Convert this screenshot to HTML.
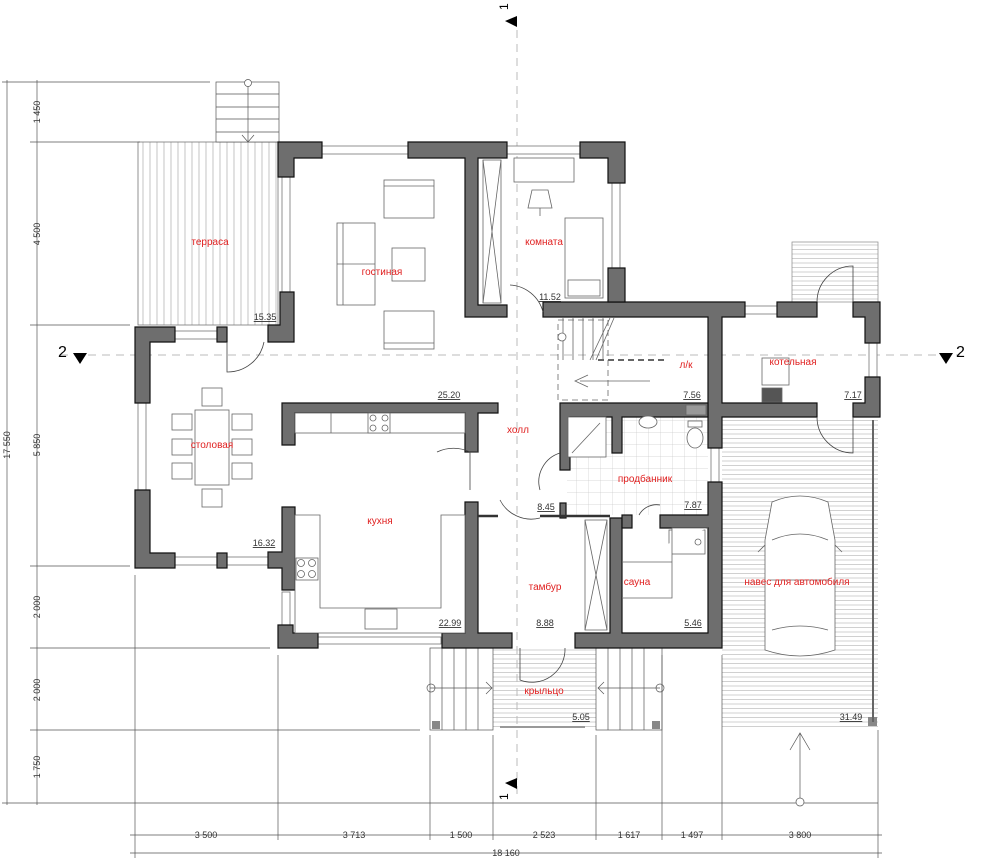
<!DOCTYPE html>
<html><head><meta charset="utf-8"><style>
html,body{margin:0;padding:0;background:#fff;}
svg{display:block;}
.w{fill:#6e6e6e;stroke:#111;stroke-width:1.2;}
.t{stroke:#555;stroke-width:0.7;fill:none;}
.f{stroke:#666;stroke-width:0.8;fill:#fff;}
.d{stroke:#444;stroke-width:0.8;fill:none;}
.lbl{font-family:"Liberation Sans",sans-serif;font-size:10px;fill:#e02020;text-anchor:middle;}
.num{font-family:"Liberation Sans",sans-serif;font-size:9px;fill:#333;text-anchor:middle;text-decoration:underline;}
.dim{font-family:"Liberation Sans",sans-serif;font-size:9px;fill:#333;text-anchor:middle;}
</style></head><body>
<svg width="1000" height="861" viewBox="0 0 1000 861" xmlns="http://www.w3.org/2000/svg">
<defs>
<pattern id="vh" width="7" height="10" patternUnits="userSpaceOnUse"><line x1="3" y1="0" x2="3" y2="10" stroke="#aaa" stroke-width="0.7"/></pattern>
<pattern id="hh" width="10" height="4.5" patternUnits="userSpaceOnUse"><line x1="0" y1="2" x2="10" y2="2" stroke="#bbb" stroke-width="0.7"/></pattern>
<pattern id="tile" width="12" height="12" patternUnits="userSpaceOnUse"><path d="M0 0H12M0 0V12" stroke="#ccc" stroke-width="0.7" fill="none"/></pattern>
</defs>

<rect x="138" y="142" width="140" height="183" fill="url(#vh)" stroke="#777" stroke-width="0.8"/>
<rect x="722" y="417" width="156" height="313" fill="url(#hh)"/>
<rect x="430" y="648" width="232" height="82" fill="url(#hh)"/>
<rect x="792" y="242" width="86" height="60" fill="url(#hh)" stroke="#888" stroke-width="0.7"/>
<rect x="567" y="415" width="141" height="100" fill="url(#tile)"/>
<g class="t">
<rect x="430" y="648" width="63" height="82" fill="#fff"/>
<line x1="442" y1="648" x2="442" y2="730"/><line x1="454" y1="648" x2="454" y2="730"/><line x1="466" y1="648" x2="466" y2="730"/><line x1="478" y1="648" x2="478" y2="730"/>
<line x1="430" y1="688" x2="492" y2="688"/><circle cx="431" cy="688" r="4"/><path d="M486 682L492 688L486 694"/>
<rect x="596" y="648" width="66" height="82" fill="#fff"/>
<line x1="608" y1="648" x2="608" y2="730"/><line x1="620" y1="648" x2="620" y2="730"/><line x1="632" y1="648" x2="632" y2="730"/><line x1="644" y1="648" x2="644" y2="730"/>
<line x1="598" y1="688" x2="660" y2="688"/><circle cx="660" cy="688" r="4"/><path d="M604 682L598 688L604 694"/>
</g>
<rect x="432" y="721" width="8" height="8" fill="#888"/><rect x="652" y="721" width="8" height="8" fill="#888"/><rect x="868" y="717" width="9" height="9" fill="#888"/>
<line x1="500" y1="727" x2="585" y2="727" stroke="#999" stroke-width="2"/>
<line x1="873" y1="420" x2="873" y2="722" stroke="#666" stroke-width="2"/>

<g stroke="#555" stroke-width="0.7" fill="none">
<line x1="7" y1="80" x2="7" y2="805"/><line x1="37" y1="80" x2="37" y2="805"/>
<line x1="2" y1="82" x2="210" y2="82"/><line x1="30" y1="142" x2="140" y2="142"/><line x1="30" y1="325" x2="130" y2="325"/>
<line x1="30" y1="566" x2="130" y2="566"/><line x1="30" y1="648" x2="270" y2="648"/><line x1="30" y1="730" x2="420" y2="730"/>
<line x1="2" y1="803" x2="878" y2="803"/>
<line x1="130" y1="835" x2="882" y2="835"/><line x1="130" y1="853" x2="882" y2="853"/>
<line x1="135" y1="575" x2="135" y2="858"/><line x1="278" y1="655" x2="278" y2="840"/><line x1="430" y1="735" x2="430" y2="840"/>
<line x1="493" y1="735" x2="493" y2="840"/><line x1="596" y1="735" x2="596" y2="840"/><line x1="662" y1="655" x2="662" y2="840"/>
<line x1="722" y1="655" x2="722" y2="840"/><line x1="878" y1="730" x2="878" y2="858"/>
<path d="M800 733V800M790 750L800 733L810 750"/><circle cx="800" cy="802" r="4" fill="#fff"/>
</g>
<g class="dim">
<text transform="translate(40,112) rotate(-90)">1 450</text>
<text transform="translate(40,234) rotate(-90)">4 500</text>
<text transform="translate(40,445) rotate(-90)">5 850</text>
<text transform="translate(40,607) rotate(-90)">2 000</text>
<text transform="translate(40,690) rotate(-90)">2 000</text>
<text transform="translate(40,767) rotate(-90)">1 750</text>
<text transform="translate(10,445) rotate(-90)">17 550</text>
<text x="206" y="838">3 500</text><text x="354" y="838">3 713</text><text x="461" y="838">1 500</text>
<text x="544" y="838">2 523</text><text x="629" y="838">1 617</text><text x="692" y="838">1 497</text><text x="800" y="838">3 800</text>
<text x="506" y="856">18 160</text>
</g>

<line x1="517" y1="30" x2="517" y2="798" stroke="#bbb" stroke-width="1" stroke-dasharray="8 6"/>
<line x1="60" y1="355" x2="960" y2="355" stroke="#bbb" stroke-width="1" stroke-dasharray="8 6"/>
<path d="M517 16L505 21L517 27Z" fill="#000"/><text x="508" y="10" font-family="Liberation Sans" font-size="12" transform="rotate(-90 508 10)">1</text>
<path d="M517 778L505 783L517 789Z" fill="#000"/><text x="508" y="800" font-family="Liberation Sans" font-size="12" transform="rotate(-90 508 800)">1</text>
<path d="M73 353H87L80 364Z" fill="#000"/><text x="58" y="357" font-family="Liberation Sans" font-size="16">2</text>
<path d="M939 353H953L946 364Z" fill="#000"/><text x="956" y="357" font-family="Liberation Sans" font-size="16">2</text>

<g class="t"><rect x="216" y="82" width="63" height="60" fill="#fff"/><line x1="216" y1="94" x2="279" y2="94"/><line x1="216" y1="107" x2="279" y2="107"/><line x1="216" y1="119" x2="279" y2="119"/><line x1="216" y1="132" x2="279" y2="132"/><line x1="248" y1="86" x2="248" y2="142"/><circle cx="248" cy="83" r="3.5" fill="#fff"/><path d="M242 135L248 142L254 135"/></g>

<g fill="#fff" stroke="#777" stroke-width="0.8">
<rect x="322" y="146" width="86" height="8"/><rect x="507" y="146" width="73" height="8"/>
<rect x="282" y="177" width="8" height="115"/><rect x="612" y="183" width="8" height="85"/>
<rect x="175" y="331" width="42" height="8"/><rect x="138" y="403" width="8" height="87"/>
<rect x="175" y="557" width="42" height="8"/><rect x="227" y="557" width="41" height="8"/>
<rect x="282" y="592" width="8" height="33"/><rect x="318" y="637" width="123" height="7"/>
<rect x="745" y="306" width="32" height="8"/><rect x="869" y="343" width="8" height="34"/><rect x="711" y="448" width="8" height="34"/>
</g>

<g class="w">
<path d="M278 142H322V158H294V177H278Z"/>
<path d="M408 142H507V158H478V305H507V317H465V158H408Z"/>
<path d="M580 142H625V183H608V158H580Z"/>
<path d="M280 292H294V342H268V325H280Z"/>
<path d="M135 327H175V342H150V403H135Z"/>
<rect x="217" y="327" width="10" height="15"/>
<path d="M135 490H150V553H175V568H135Z"/>
<rect x="217" y="553" width="10" height="15"/>
<path d="M282 507H295V590H282V568H268V552H282Z"/>
<path d="M282 403H498V413H478V452H465V413H295V445H282Z"/>
<path d="M278 625H293V633H318V648H278Z"/>
<path d="M465 502H478V633H512V648H442V633H465Z"/>
<path d="M543 302H745V317H722V403H817V417H722V448H708V317H625V317H543Z"/>
<path d="M608 268H625V302H608Z"/>
<rect x="777" y="302" width="40" height="15"/>
<path d="M853 302H880V343H865V317H853Z"/>
<path d="M865 377H880V417H853V403H865Z"/>
<path d="M560 403H708V417H622V453H612V417H570V470H560Z"/>
<path d="M708 482H722V648H575V633H610V518H622V633H708V528H660V515H708Z"/>
<rect x="622" y="515" width="10" height="13"/>
<rect x="560" y="503" width="6" height="15"/>
</g>
<line x1="478" y1="516" x2="498" y2="516" stroke="#333" stroke-width="2.5"/>
<line x1="540" y1="516" x2="610" y2="516" stroke="#333" stroke-width="2.5"/>

<g class="d">
<path d="M227 342V372A37 37 0 0 0 264 342"/>
<path d="M510 285A36 36 0 0 1 543 312"/>
<path d="M478 452H470V490 M470 452A38 38 0 0 0 437 452"/>
<path d="M500 500A35 35 0 0 0 540 518"/>
<path d="M540 490A30 30 0 0 1 560 453"/>
<path d="M639 515A20 20 0 0 1 660 505"/>
<path d="M520 648V680A33 33 0 0 0 565 648"/>
<path d="M853 302V266A36 36 0 0 0 817 302"/>
<path d="M853 417V453A36 36 0 0 1 817 417"/>
</g>

<g class="f">
<rect x="384" y="180" width="50" height="38"/><line x1="384" y1="186" x2="434" y2="186"/>
<rect x="337" y="223" width="38" height="82"/><line x1="343" y1="223" x2="343" y2="305"/><line x1="337" y1="264" x2="375" y2="264"/>
<rect x="392" y="248" width="33" height="33"/>
<rect x="384" y="311" width="50" height="38"/><line x1="384" y1="343" x2="434" y2="343"/>
<rect x="514" y="158" width="60" height="24"/>
<rect x="565" y="218" width="38" height="80"/><rect x="568" y="280" width="32" height="16"/>
<path d="M532 190L548 190L552 208L528 208Z"/><line x1="540" y1="208" x2="540" y2="216"/>
<rect x="195" y="410" width="34" height="75"/>
<rect x="202" y="388" width="20" height="18"/><rect x="202" y="489" width="20" height="18"/>
<rect x="172" y="414" width="20" height="16"/><rect x="172" y="439" width="20" height="16"/><rect x="172" y="463" width="20" height="16"/>
<rect x="232" y="414" width="20" height="16"/><rect x="232" y="439" width="20" height="16"/><rect x="232" y="463" width="20" height="16"/>
<rect x="295" y="413" width="170" height="20"/><line x1="331" y1="413" x2="331" y2="433"/>
<rect x="368" y="413" width="22" height="20"/>
<circle cx="373" cy="418" r="3"/><circle cx="385" cy="418" r="3"/><circle cx="373" cy="428" r="3"/><circle cx="385" cy="428" r="3"/>
<path d="M295 515H320V608H441V515H465V633H295Z"/>
<rect x="296" y="558" width="22" height="22"/>
<circle cx="301" cy="563" r="3.5"/><circle cx="312" cy="563" r="3.5"/><circle cx="301" cy="574" r="3.5"/><circle cx="312" cy="574" r="3.5"/>
<rect x="365" y="609" width="32" height="20"/>
<rect x="568" y="417" width="38" height="40"/><line x1="572" y1="453" x2="600" y2="423"/>
<ellipse cx="648" cy="422" rx="9" ry="6"/>
<rect x="686" y="405" width="20" height="10" fill="#999"/>
<ellipse cx="695" cy="438" rx="8" ry="10"/><rect x="688" y="421" width="14" height="6"/>
<rect x="669" y="530" width="36" height="24"/><circle cx="698" cy="542" r="3"/>
<path d="M622 562H672V528H708M622 598H672V562"/>
<rect x="762" y="358" width="27" height="27"/>
<rect x="762" y="388" width="20" height="14" fill="#555"/>
<rect x="558" y="320" width="50" height="80" fill="none" stroke-dasharray="6 4"/>
<path d="M563 317V360M573 317V360M583 317V360M593 317V360M603 317V360" />
<path d="M610 318L590 360M614 318L596 360"/>
<circle cx="562" cy="337" r="4"/>
<path d="M580 381H650M588 375L575 381L588 387" stroke-dasharray="0"/>
<path d="M598 360H665" stroke-dasharray="6 4" stroke-width="2"/>
<rect x="483" y="160" width="18" height="143" fill="none"/><path d="M483 160L501 303M501 160L483 303"/>
<rect x="585" y="520" width="22" height="110" fill="none"/><path d="M585 520L607 630M607 520L585 630"/>
<path d="M772 502Q800 490 828 502L835 540L835 650Q800 662 765 650L765 540Z"/>
<path d="M772 540Q800 528 828 540M770 580L830 580M772 630Q800 622 828 630"/>
<path d="M765 545L758 552M835 545L842 552"/>
</g>

<g class="lbl">
<text x="210" y="245">терраса</text><text x="382" y="275">гостиная</text><text x="544" y="245">комната</text>
<text x="686" y="368">л/к</text><text x="793" y="365">котельная</text><text x="212" y="448">столовая</text>
<text x="518" y="433">холл</text><text x="380" y="524">кухня</text><text x="645" y="482">продбанник</text>
<text x="545" y="590">тамбур</text><text x="637" y="585">сауна</text><text x="797" y="585">навес для автомобиля</text>
<text x="544" y="694">крыльцо</text>
</g>
<g class="num">
<text x="265" y="320">15.35</text><text x="449" y="398">25.20</text><text x="550" y="300">11.52</text>
<text x="692" y="398">7.56</text><text x="853" y="398">7.17</text><text x="264" y="546">16.32</text>
<text x="693" y="508">7.87</text><text x="546" y="510">8.45</text><text x="450" y="626">22.99</text>
<text x="545" y="626">8.88</text><text x="693" y="626">5.46</text><text x="581" y="720">5.05</text><text x="851" y="720">31.49</text>
</g>
</svg>
</body></html>
